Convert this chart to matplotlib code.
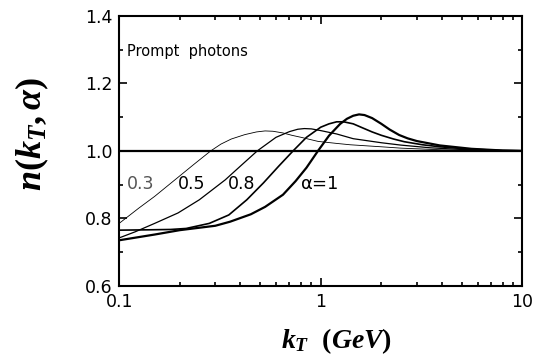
import numpy as np
import matplotlib.pyplot as plt

plt.rcParams['mathtext.fontset'] = 'custom'
plt.rcParams['mathtext.rm'] = 'Liberation Serif:bold'
plt.rcParams['mathtext.it'] = 'Liberation Serif:bold:italic'

# values, (kT in GeV, ratio)
k_03 = [0.1, 0.125, 0.15, 0.19, 0.235, 0.285, 0.32, 0.36, 0.42, 0.48, 0.53, 0.58, 0.65, 0.72, 0.8, 0.97,
        1.2, 1.4, 2.0, 2.5, 4.0, 6.0, 10.0]
n_03 = [0.785, 0.83, 0.865, 0.915, 0.96, 1.0, 1.02, 1.035, 1.048, 1.056, 1.059, 1.058, 1.053, 1.046, 1.04, 1.028,
        1.022, 1.018, 1.012, 1.008, 1.003, 1.001, 1.0]

k_05 = [0.1, 0.12, 0.15, 0.196, 0.25, 0.336, 0.4, 0.485, 0.6, 0.7, 0.77, 0.83, 0.9, 1.0, 1.2, 1.45,
        2.0, 2.5, 3.5, 5.0, 7.0, 10.0]
n_05 = [0.742, 0.76, 0.785, 0.816, 0.855, 0.914, 0.955, 1.0, 1.04, 1.057, 1.064, 1.066, 1.065, 1.06, 1.05, 1.036,
        1.024, 1.017, 1.009, 1.004, 1.001, 1.0]

k_08 = [0.1, 0.14, 0.18, 0.215, 0.28, 0.35, 0.43, 0.52, 0.62, 0.73, 0.85, 1.0, 1.1, 1.2, 1.3, 1.45, 1.6,
        1.8, 2.0, 2.3, 2.6, 3.2, 3.9, 5.5, 8.0, 10.0]
n_08 = [0.765, 0.766, 0.767, 0.77, 0.785, 0.81, 0.855, 0.905, 0.955, 1.0, 1.04, 1.07, 1.08, 1.086, 1.086, 1.08, 1.069,
        1.056, 1.046, 1.035, 1.027, 1.018, 1.012, 1.005, 1.001, 1.0]

k_10 = [0.1, 0.15, 0.2, 0.3, 0.355, 0.45, 0.53, 0.65, 0.75, 0.85, 0.97, 1.1, 1.25, 1.35, 1.45, 1.55, 1.65,
        1.8, 2.0, 2.2, 2.45, 2.7, 3.0, 3.9, 5.6, 8.0, 10.0]
n_10 = [0.735, 0.752, 0.765, 0.778, 0.79, 0.812, 0.834, 0.87, 0.91, 0.95, 1.0, 1.045, 1.08, 1.095, 1.104, 1.108, 1.106,
        1.097, 1.08, 1.063, 1.047, 1.037, 1.029, 1.016, 1.006, 1.001, 1.0]

series = [(k_03, n_03, 0.6), (k_05, n_05, 0.9), (k_08, n_08, 1.2), (k_10, n_10, 1.6)]

fig = plt.figure(figsize=(5.44, 3.6), dpi=100)
ax = fig.add_axes([0.219, 0.206, 0.741, 0.75])

ax.axhline(1.0, color='black', lw=1.6)
for k, n, lw in series:
    ax.plot(k, n, color='black', lw=lw, solid_joinstyle='round')

ax.set_xscale('log')
ax.set_xlim(0.1, 10)
ax.set_ylim(0.6, 1.4)
ax.set_yticks([0.6, 0.8, 1.0, 1.2, 1.4])
ax.set_yticks(np.arange(0.6, 1.41, 0.1), minor=True)
ax.set_xticks([0.1, 1, 10])
ax.set_xticklabels(['0.1', '1', '10'])
ax.yaxis.set_major_formatter(plt.FormatStrFormatter('%.1f'))

ax.tick_params(which='both', direction='in', top=True, right=True, labelsize=12.5, width=1.2)
ax.tick_params(which='major', length=6, pad=5)
ax.tick_params(which='minor', length=3)
for s in ax.spines.values():
    s.set_linewidth(1.5)

ax.text(0.11, 1.293, 'Prompt  photons', fontsize=10.5, va='center')
ax.text(0.1096, 0.902, '0.3', fontsize=12.5, color='#555555', va='center')
ax.text(0.196, 0.902, '0.5', fontsize=12.5, va='center')
ax.text(0.3475, 0.902, '0.8', fontsize=12.5, va='center')
ax.text(0.79, 0.902, r'$\mathregular{\alpha}$=1', fontsize=13, va='center')

ax.set_ylabel(r'$n(k_T,\alpha)$', fontsize=26)
ax.yaxis.set_label_coords(-0.17, 0.56)
ax.set_xlabel(r'$k_T\ \ (GeV)$', fontsize=20)
ax.xaxis.set_label_coords(0.54, -0.15)

fig.savefig('out.png', dpi=100)
